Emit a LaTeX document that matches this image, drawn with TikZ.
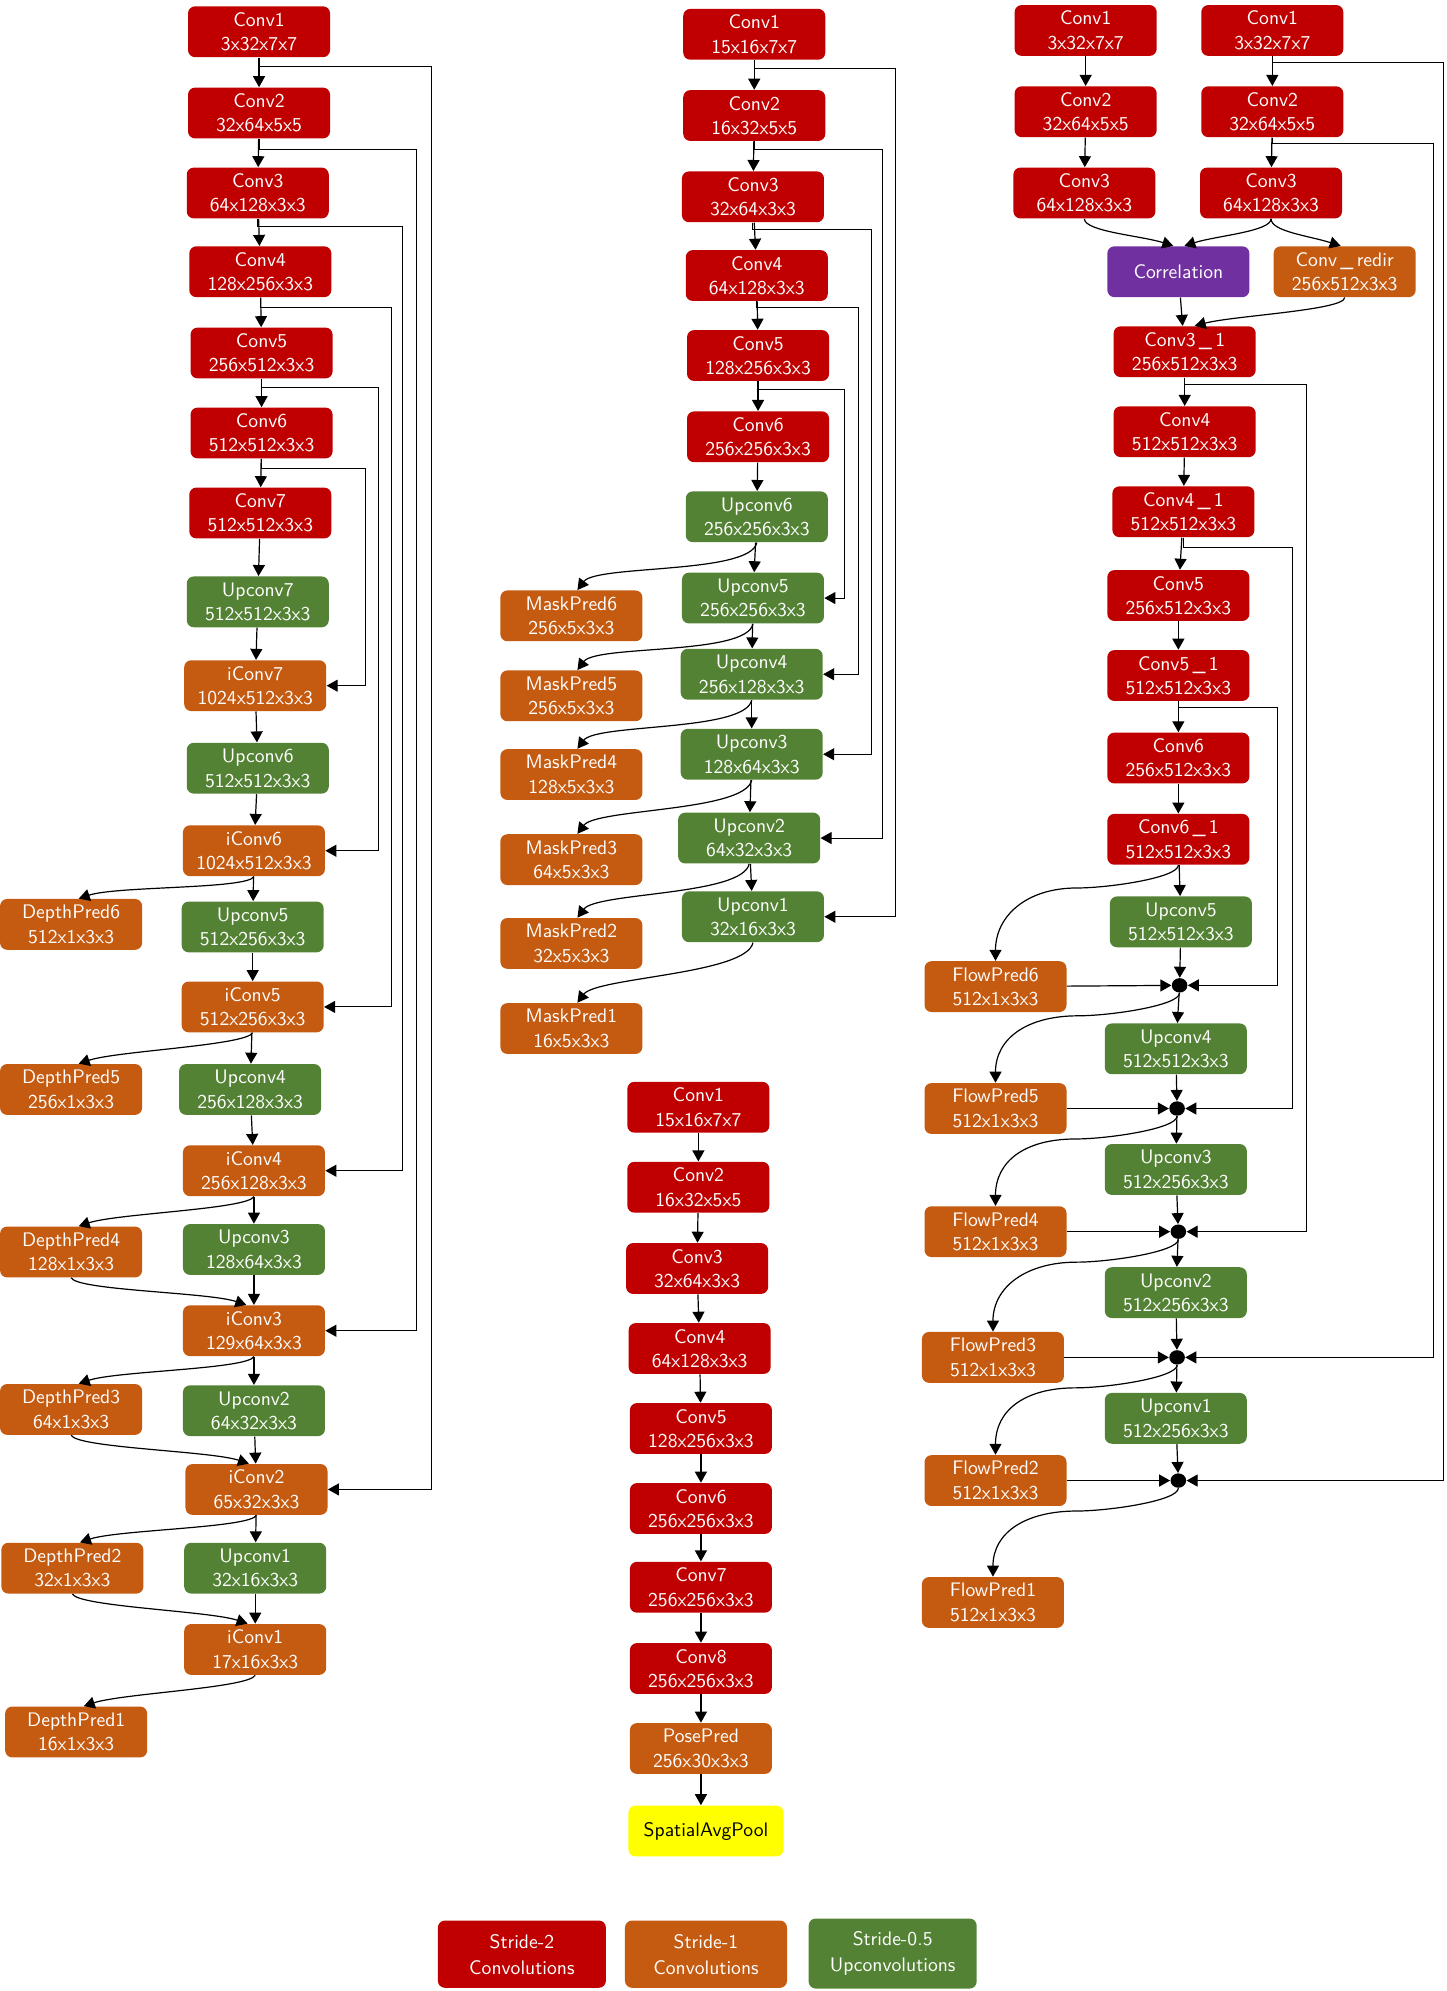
\documentclass[tikz,border=0pt]{standalone}
\usetikzlibrary{arrows.meta,shapes.geometric,calc}
\definecolor{cred}{HTML}{C00000}
\definecolor{corg}{HTML}{C55A11}
\definecolor{cgrn}{HTML}{548235}
\definecolor{cpur}{HTML}{7030A0}
\definecolor{cyel}{HTML}{FFFF00}
\begin{document}
\begin{tikzpicture}[x=0.6348pt,y=-0.6348pt,
 blk/.style={rounded corners=3.5pt, minimum width=71pt, minimum height=25.4pt, inner sep=1pt, align=center, text=white, font=\sffamily\fontsize{9.8}{12.2}\selectfont},
 s2/.style={blk,fill=cred}, s1/.style={blk,fill=corg}, up/.style={blk,fill=cgrn},
 corr/.style={blk,fill=cpur}, pool/.style={blk,fill=cyel,text=black,minimum width=77.5pt},
 e/.style={line width=0.6pt, -{Triangle[length=5.5pt,width=6pt]}},
 sk/.style={line width=0.5pt, -{Triangle[length=5.5pt,width=6pt]}},
 dotn/.style={ellipse, fill=black, minimum width=7.8pt, minimum height=7.2pt, inner sep=0pt},
 lg/.style={blk, minimum height=33.6pt, font=\sffamily\fontsize{9.8}{13}\selectfont}]
\useasboundingbox (0,0) rectangle (1139,1568);

% ---------------- Depth network ----------------
\node[s2] (dc1) at (204,25) {Conv1\\3x32x7x7};
\node[s2] (dc2) at (204,89) {Conv2\\32x64x5x5};
\node[s2] (dc3) at (203,152) {Conv3\\64x128x3x3};
\node[s2] (dc4) at (205,214) {Conv4\\128x256x3x3};
\node[s2] (dc5) at (206,278) {Conv5\\256x512x3x3};
\node[s2] (dc6) at (206,341) {Conv6\\512x512x3x3};
\node[s2] (dc7) at (205,404) {Conv7\\512x512x3x3};
\node[up] (du7) at (203,474) {Upconv7\\512x512x3x3};
\node[s1] (di7) at (201,540) {iConv7\\1024x512x3x3};
\node[up] (du6) at (203,605) {Upconv6\\512x512x3x3};
\node[s1] (di6) at (200,670) {iConv6\\1024x512x3x3};
\node[s1] (dp6) at (56,728) {DepthPred6\\512x1x3x3};
\node[up] (du5) at (199,730) {Upconv5\\512x256x3x3};
\node[s1] (di5) at (199,793) {iConv5\\512x256x3x3};
\node[s1] (dp5) at (56,858) {DepthPred5\\256x1x3x3};
\node[up] (du4) at (197,858) {Upconv4\\256x128x3x3};
\node[s1] (di4) at (200,922) {iConv4\\256x128x3x3};
\node[s1] (dp4) at (56,986) {DepthPred4\\128x1x3x3};
\node[up] (du3) at (200,984) {Upconv3\\128x64x3x3};
\node[s1] (di3) at (200,1048) {iConv3\\129x64x3x3};
\node[s1] (dp3) at (56,1110) {DepthPred3\\64x1x3x3};
\node[up] (du2) at (200,1111) {Upconv2\\64x32x3x3};
\node[s1] (di2) at (202,1173) {iConv2\\65x32x3x3};
\node[s1] (dp2) at (57,1235) {DepthPred2\\32x1x3x3};
\node[up] (du1) at (201,1235) {Upconv1\\32x16x3x3};
\node[s1] (di1) at (201,1299) {iConv1\\17x16x3x3};
\node[s1] (dp1) at (60,1364) {DepthPred1\\16x1x3x3};

\foreach \a/\b in {dc1/dc2,dc2/dc3,dc3/dc4,dc4/dc5,dc5/dc6,dc6/dc7,dc7/du7,du7/di7,di7/du6,du6/di6,di6/du5,du5/di5,di5/du4,du4/di4,di4/du3,du3/di3,di3/du2,du2/di2,di2/du1,du1/di1}
  \draw[e] (\a) -- (\b);
\foreach \a/\b in {di6/dp6,di5/dp5,di4/dp4,di3/dp3,di2/dp2,di1/dp1}
  \draw[e] (\a.south) .. controls +(-5,10) and +(30,-10) .. ([xshift=3.8pt]\b.north);
\foreach \a/\b in {dp4/di3,dp3/di2,dp2/di1}
  \draw[e] (\a.south) .. controls +(5,10) and +(-30,-10) .. ([xshift=-3.8pt]\b.north);

\draw[sk] (dc1.south) |- (340,52) |- (di2.east);
\draw[sk] (dc2.south) |- (328,118) |- (di3.east);
\draw[sk] (dc3.south) |- (317,178) |- (di4.east);
\draw[sk] (dc4.south) |- (308,242) |- (di5.east);
\draw[sk] (dc5.south) |- (298,305) |- (di6.east);
\draw[sk] (dc6.south) |- (288,369) |- (di7.east);

% ---------------- Mask network ----------------
\node[s2] (mc1) at (594,27) {Conv1\\15x16x7x7};
\node[s2] (mc2) at (594,91) {Conv2\\16x32x5x5};
\node[s2] (mc3) at (593,155) {Conv3\\32x64x3x3};
\node[s2] (mc4) at (596,217) {Conv4\\64x128x3x3};
\node[s2] (mc5) at (597,280) {Conv5\\128x256x3x3};
\node[s2] (mc6) at (597,344) {Conv6\\256x256x3x3};
\node[up] (mu6) at (596,407) {Upconv6\\256x256x3x3};
\node[s1] (mp6) at (450,485) {MaskPred6\\256x5x3x3};
\node[up] (mu5) at (593,471) {Upconv5\\256x256x3x3};
\node[s1] (mp5) at (450,548) {MaskPred5\\256x5x3x3};
\node[up] (mu4) at (592,531) {Upconv4\\256x128x3x3};
\node[s1] (mp4) at (450,610) {MaskPred4\\128x5x3x3};
\node[up] (mu3) at (592,594) {Upconv3\\128x64x3x3};
\node[s1] (mp3) at (450,677) {MaskPred3\\64x5x3x3};
\node[up] (mu2) at (590,660) {Upconv2\\64x32x3x3};
\node[s1] (mp2) at (450,743) {MaskPred2\\32x5x3x3};
\node[up] (mu1) at (593,722) {Upconv1\\32x16x3x3};
\node[s1] (mp1) at (450,810) {MaskPred1\\16x5x3x3};

\foreach \a/\b in {mc1/mc2,mc2/mc3,mc3/mc4,mc4/mc5,mc5/mc6,mc6/mu6,mu6/mu5,mu5/mu4,mu4/mu3,mu3/mu2,mu2/mu1}
  \draw[e] (\a) -- (\b);
\foreach \a/\b in {mu6/mp6,mu5/mp5,mu4/mp4,mu3/mp3,mu2/mp2,mu1/mp1}
  \draw[e] (\a.south) .. controls +(-5,25) and +(15,-20) .. ([xshift=3pt]\b.north);

\draw[sk] (mc1.south) |- (705,54) |- (mu1.east);
\draw[sk] (mc2.south) |- (695,118) |- (mu2.east);
\draw[sk] (mc3.south) |- (686,181) |- (mu3.east);
\draw[sk] (mc4.south) |- (676,242) |- (mu4.east);
\draw[sk] (mc5.south) |- (665,307) |- (mu5.east);

% ---------------- Pose network ----------------
\node[s2] (pc1) at (550,872) {Conv1\\15x16x7x7};
\node[s2] (pc2) at (550,935) {Conv2\\16x32x5x5};
\node[s2] (pc3) at (549,999) {Conv3\\32x64x3x3};
\node[s2] (pc4) at (551,1062) {Conv4\\64x128x3x3};
\node[s2] (pc5) at (552,1125) {Conv5\\128x256x3x3};
\node[s2] (pc6) at (552,1188) {Conv6\\256x256x3x3};
\node[s2] (pc7) at (552,1250) {Conv7\\256x256x3x3};
\node[s2] (pc8) at (552,1314) {Conv8\\256x256x3x3};
\node[s1] (ppose) at (552,1377) {PosePred\\256x30x3x3};
\node[pool] (ppool) at (556,1442) {SpatialAvgPool};
\foreach \a/\b in {pc1/pc2,pc2/pc3,pc3/pc4,pc4/pc5,pc5/pc6,pc6/pc7,pc7/pc8,pc8/ppose}
  \draw[e] (\a) -- (\b);
\draw[e] (ppose.south) -- (ppose.south |- ppool.north);

% ---------------- Flow network ----------------
\node[s2] (fa1) at (855,24) {Conv1\\3x32x7x7};
\node[s2] (fb1) at (1002,24) {Conv1\\3x32x7x7};
\node[s2] (fa2) at (855,88) {Conv2\\32x64x5x5};
\node[s2] (fb2) at (1002,88) {Conv2\\32x64x5x5};
\node[s2] (fa3) at (854,152) {Conv3\\64x128x3x3};
\node[s2] (fb3) at (1001,152) {Conv3\\64x128x3x3};
\node[corr] (fcor) at (928,214) {Correlation};
\node[s1] (fred) at (1059,214) {Conv\,\_\,redir\\256x512x3x3};
\node[s2] (f31) at (933,277) {Conv3\,\_\,1\\256x512x3x3};
\node[s2] (f4) at (933,340) {Conv4\\512x512x3x3};
\node[s2] (f41) at (932,403) {Conv4\,\_\,1\\512x512x3x3};
\node[s2] (f5) at (928,469) {Conv5\\256x512x3x3};
\node[s2] (f51) at (928,532) {Conv5\,\_\,1\\512x512x3x3};
\node[s2] (f6) at (928,597) {Conv6\\256x512x3x3};
\node[s2] (f61) at (928,661) {Conv6\,\_\,1\\512x512x3x3};
\node[up] (fu5) at (930,726) {Upconv5\\512x512x3x3};
\node[s1] (fp6) at (784,777) {FlowPred6\\512x1x3x3};
\node[dotn] (dt1) at (929,776) {};
\node[up] (fu4) at (926,826) {Upconv4\\512x512x3x3};
\node[s1] (fp5) at (784,873) {FlowPred5\\512x1x3x3};
\node[dotn] (dt2) at (927,873) {};
\node[up] (fu3) at (926,921) {Upconv3\\512x256x3x3};
\node[s1] (fp4) at (784,970) {FlowPred4\\512x1x3x3};
\node[dotn] (dt3) at (928,970) {};
\node[up] (fu2) at (926,1018) {Upconv2\\512x256x3x3};
\node[s1] (fp3) at (782,1069) {FlowPred3\\512x1x3x3};
\node[dotn] (dt4) at (927,1069) {};
\node[up] (fu1) at (926,1117) {Upconv1\\512x256x3x3};
\node[s1] (fp2) at (784,1166) {FlowPred2\\512x1x3x3};
\node[dotn] (dt5) at (928,1166) {};
\node[s1] (fp1) at (782,1262) {FlowPred1\\512x1x3x3};

\foreach \a/\b in {fa1/fa2,fa2/fa3,fb1/fb2,fb2/fb3,fcor/f31,f31/f4,f4/f41,f41/f5,f5/f51,f51/f6,f6/f61,f61/fu5,fu5/dt1,fp6/dt1,dt1/fu4,fu4/dt2,fp5/dt2,dt2/fu3,fu3/dt3,fp4/dt3,dt3/fu2,fu2/dt4,fp3/dt4,dt4/fu1,fu1/dt5,fp2/dt5}
  \draw[e] (\a) -- (\b);
\draw[e] (fa3.south) .. controls +(0,10) and +(-25,-8) .. ([xshift=-2.5pt]fcor.north);
\draw[e] (fb3.south) .. controls +(0,10) and +(25,-8) .. ([xshift=3pt]fcor.north);
\draw[e] (fb3.south) .. controls +(0,10) and +(-25,-8) .. ([xshift=-2pt]fred.north);
\draw[e] (fred.south) .. controls +(0,10) and +(30,-8) .. ([xshift=5pt]f31.north);
\foreach \a/\b in {f61/fp6,dt1/fp5,dt2/fp4,dt3/fp3,dt4/fp2,dt5/fp1}
  \draw[e] (\a.south) .. controls +(0,10) and +(25,0) .. ($(\a.south)+(-80,18)$) .. controls +(-40,0) and +(0,-35) .. (\b.north);

\draw[sk] (fb1.south) |- (1137,49) |- (dt5.east);
\draw[sk] (fb2.south) |- (1129,113) |- (dt4.east);
\draw[sk] (f31.south) |- (1029,303) |- (dt3.east);
\draw[sk] (f41.south) |- (1018,431) |- (dt2.east);
\draw[sk] (f51.south) |- (1006,557) |- (dt1.east);

% ---------------- Legend ----------------
\node[lg,fill=cred,minimum width=84pt] (lg1) at (411,1539) {Stride-2\\Convolutions};
\node[lg,fill=corg,minimum width=81pt] (lg2) at (556,1539) {Stride-1\\Convolutions};
\node[lg,fill=cgrn,minimum width=84pt,minimum height=35pt] (lg3) at (703,1538.5) {Stride-0.5\\Upconvolutions};
\end{tikzpicture}
\end{document}
